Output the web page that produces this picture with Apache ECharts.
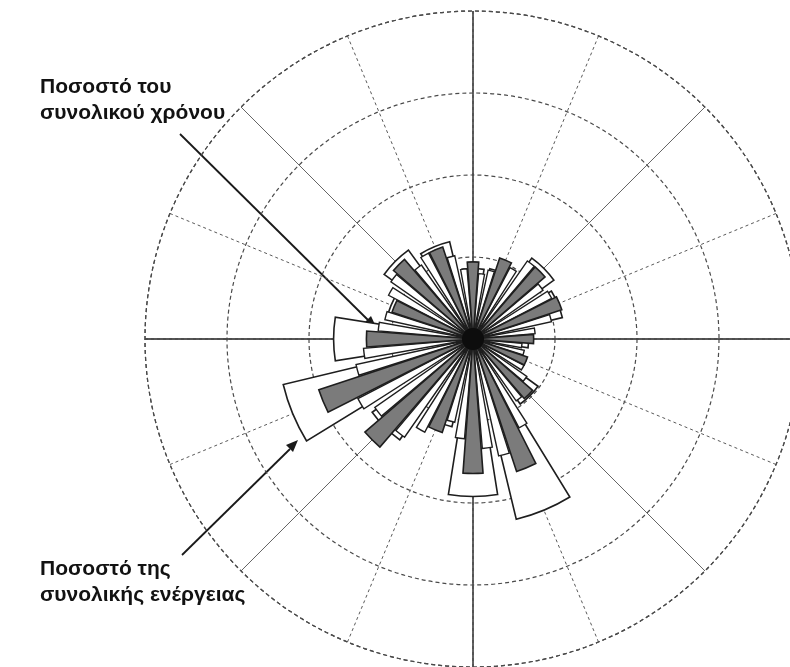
<!DOCTYPE html>
<html>
<head>
<meta charset="utf-8">
<style>
  html, body { margin: 0; padding: 0; background: #fff; }
  #chart { width: 790px; height: 667px; }
</style>
<script src="https://cdn.jsdelivr.net/npm/echarts@6/dist/echarts.min.js"></script>
</head>
<body>
<div id="chart"></div>
<script>
// 16 compass sectors, clockwise from north
const sectors16 = ['N','NNE','NE','ENE','E','ESE','SE','SSE','S','SSW','SW','WSW','W','WNW','NW','NNW'];

// share of total energy per sector (%), wide white wedges
const energyShare = [4.3, 4.4, 6.1, 5.6, 3.4, 3.0, 4.9, 11.3, 9.6, 5.5, 7.6, 11.9, 8.5, 5.4, 6.7, 6.1];

// share of total time per sector (%), grey bars
const timeShare = [4.7, 5.2, 5.8, 5.7, 3.7, 3.5, 4.8, 8.5, 8.2, 6.0, 8.7, 9.9, 6.5, 5.2, 6.4, 5.9];

// intermediate 7.5° sub-directions lying between the main sectors (%)
const subAngles = [7.5, 15, 30, 37.5, 52.5, 60, 75, 82.5, 97.5, 105, 120, 127.5, 142.5, 150, 165, 172.5,
                   187.5, 195, 210, 217.5, 232.5, 240, 255, 262.5, 277.5, 285, 300, 307.5, 322.5, 330, 345, 352.5];
const subShare = [4.0, 4.3, 4.9, 5.8, 5.2, 5.4, 4.9, 3.8, 3.0, 3.2, 3.5, 4.0, 4.6, 6.1, 7.3, 6.7,
                  6.1, 5.2, 6.4, 7.3, 7.3, 7.9, 7.3, 6.7, 5.8, 5.5, 5.8, 6.1, 5.5, 5.9, 5.2, 4.3];

// radial scale (%) and ring step
const radialMax = 20;
const ringStep = 5;

// 48 sub-direction categories; main-sector slots stay empty
const sub48 = [];
const sub48Values = [];
for (let i = 0; i < 48; i++) {
  const a = i * 7.5;
  sub48.push(String(a));
  const k = subAngles.indexOf(a);
  sub48Values.push(k >= 0 ? subShare[k] : '-');
}

const CENTER = [473, 339];
const RADIUS = 328;

const chart = echarts.init(document.getElementById('chart'), null, { renderer: 'canvas' });

const hiddenRadius = (idx) => ({
  polarIndex: idx, type: 'value', min: 0, max: radialMax,
  axisLine: { show: false }, axisTick: { show: false }, axisLabel: { show: false }, splitLine: { show: false }
});
const hiddenAngle = (idx, extra) => Object.assign({
  polarIndex: idx,
  axisLine: { show: false }, axisTick: { show: false }, axisLabel: { show: false }, splitLine: { show: false }
}, extra);

const polars = [];
for (let i = 0; i < 6; i++) polars.push({ center: CENTER, radius: RADIUS });

const labelFont = 'bold 21px "Liberation Sans", Arial, sans-serif';

const option = {
  backgroundColor: '#ffffff',
  animation: false,
  polar: polars,
  radiusAxis: [
    {
      polarIndex: 0, type: 'value', min: 0, max: radialMax, interval: ringStep,
      axisLine: { show: false }, axisTick: { show: false }, axisLabel: { show: false },
      splitLine: { show: true, lineStyle: { color: '#4a4a4a', width: 1.2, type: [4, 3] } }
    },
    hiddenRadius(1), hiddenRadius(2), hiddenRadius(3), hiddenRadius(4), hiddenRadius(5)
  ],
  angleAxis: [
    // dashed 22.5° spokes and dashed outer ring
    {
      polarIndex: 0, type: 'value', min: 0, max: 360, interval: 22.5, startAngle: 90, clockwise: true,
      axisLine: { show: true, lineStyle: { color: '#4a4a4a', width: 1.2, type: [4, 3] } },
      axisTick: { show: false }, axisLabel: { show: false },
      splitLine: { show: true, lineStyle: { color: '#5a5a5a', width: 1, type: [3, 3] } }
    },
    // solid diagonals
    {
      polarIndex: 1, type: 'value', min: 0, max: 360, interval: 45, startAngle: 90,
      axisLine: { show: false }, axisTick: { show: false }, axisLabel: { show: false },
      splitLine: { show: true, lineStyle: { color: '#666', width: 1 } }
    },
    // solid cardinal axes
    {
      polarIndex: 2, type: 'value', min: 0, max: 360, interval: 90, startAngle: 90,
      axisLine: { show: false }, axisTick: { show: false }, axisLabel: { show: false },
      splitLine: { show: true, lineStyle: { color: '#3a3a3a', width: 1.3 } }
    },
    hiddenAngle(3, { type: 'category', data: sectors16, startAngle: 90 + 11.25 }),
    hiddenAngle(4, { type: 'category', data: sub48, startAngle: 90 + 3.75 }),
    hiddenAngle(5, { type: 'category', data: sectors16, startAngle: 90 + 11.25 })
  ],
  series: [
    {
      name: 'energy', type: 'bar', coordinateSystem: 'polar', polarIndex: 3,
      data: energyShare, barWidth: '80%',
      itemStyle: { color: '#ffffff', borderColor: '#1e1e1e', borderWidth: 1.6 }
    },
    {
      name: 'sub', type: 'bar', coordinateSystem: 'polar', polarIndex: 4,
      data: sub48Values, barWidth: '70%',
      itemStyle: { color: '#ffffff', borderColor: '#1e1e1e', borderWidth: 1.4 }
    },
    {
      name: 'time', type: 'bar', coordinateSystem: 'polar', polarIndex: 5,
      data: timeShare, barWidth: '38%',
      itemStyle: { color: '#7b7b7b', borderColor: '#1e1e1e', borderWidth: 1.6 }
    }
  ],
  graphic: [
    {
      type: 'text', left: 40, top: 74,
      style: {
        text: 'Ποσοστό του\nσυνολικού χρόνου',
        font: labelFont, fill: '#121212', lineHeight: 26
      }
    },
    {
      type: 'text', left: 40, top: 556,
      style: {
        text: 'Ποσοστό της\nσυνολικής ενέργειας',
        font: labelFont, fill: '#121212', lineHeight: 26
      }
    },
    // dark hub where all sectors meet
    {
      type: 'circle', shape: { cx: CENTER[0], cy: CENTER[1], r: 11 },
      style: { fill: '#0d0d0d' }, z: 100
    },
    // pointer to the time bars
    {
      type: 'line', shape: { x1: 180, y1: 134, x2: 368, y2: 320 },
      style: { stroke: '#1a1a1a', lineWidth: 1.8 }
    },
    {
      type: 'polygon', shape: { points: [[377, 329], [364, 323], [371, 316]] },
      style: { fill: '#1a1a1a' }
    },
    // pointer to the energy wedges
    {
      type: 'line', shape: { x1: 182, y1: 555, x2: 290, y2: 449 },
      style: { stroke: '#1a1a1a', lineWidth: 1.8 }
    },
    {
      type: 'polygon', shape: { points: [[298, 440], [293, 452], [286, 445]] },
      style: { fill: '#1a1a1a' }
    }
  ]
};

chart.setOption(option);
</script>
</body>
</html>
